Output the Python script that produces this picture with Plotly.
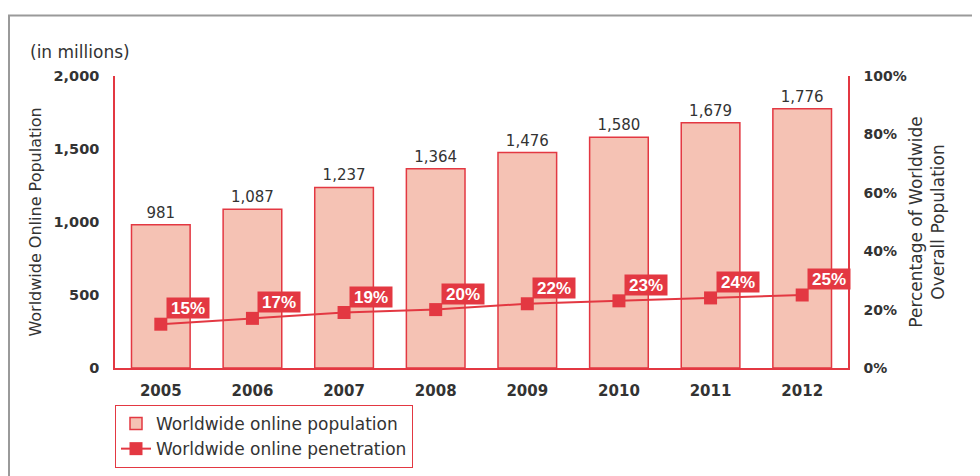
import plotly.graph_objects as go

years = ["2005", "2006", "2007", "2008", "2009", "2010", "2011", "2012"]
population = [981, 1087, 1237, 1364, 1476, 1580, 1679, 1776]
penetration = [15, 17, 19, 20, 22, 23, 24, 25]

left_ticks = [0, 500, 1000, 1500, 2000]
left_labels = ["0", "500", "1,000", "1,500", "2,000"]
right_ticks = [0, 20, 40, 60, 80, 100]
right_labels = ["0%", "20%", "40%", "60%", "80%", "100%"]

RED = "#e33842"
FILL = "#f5c2b4"
TXT = "#333333"
FONT = "DejaVu Sans, Liberation Sans, Arial, sans-serif"
LABEL_FONT = "Liberation Sans, Arial, Helvetica, sans-serif"

# page body has an 8px margin; figure is sized to fit the window
OFF = 8
W, H = 980 - OFF, 476 - OFF
L, R, T, B = 107, 132, 68, 108
pw, ph = W - L - R, H - T - B

def px_x(p):  # page pixel -> paper fraction
    return (p - OFF - L) / pw

def px_y(p):
    return (H - B - (p - OFF)) / ph

fig = go.Figure()
fig.add_trace(go.Bar(
    x=years, y=population, name="Worldwide online population",
    marker=dict(color=FILL, line=dict(color=RED, width=1.5)),
    texttemplate="%{y:,}", textposition="outside",
    textfont=dict(family=FONT, size=15, color=TXT),
    cliponaxis=False, yaxis="y",
))
fig.add_trace(go.Scatter(
    x=years, y=penetration, name="Worldwide online penetration",
    mode="lines+markers", yaxis="y2",
    line=dict(color=RED, width=2),
    marker=dict(symbol="square", size=13, color=RED),
))

for i, v in enumerate(penetration):
    fig.add_annotation(
        x=i, y=v, xref="x", yref="y2", text=f"<b>{v}%</b>",
        showarrow=False, xshift=27, yshift=16,
        font=dict(family=LABEL_FONT, size=17, color="white"),
        bgcolor=RED, borderpad=1, width=40, height=18,
    )

fig.add_annotation(
    x=px_x(28), y=px_y(52), xref="paper", yref="paper",
    xanchor="left", yanchor="middle", showarrow=False,
    text="(in millions)", font=dict(family=FONT, size=17, color=TXT),
)

fig.add_shape(
    type="rect", xref="paper", yref="paper",
    x0=px_x(9), y0=px_y(520), x1=px_x(1020), y1=px_y(15.5),
    line=dict(color="#9a9a9a", width=2), fillcolor="rgba(0,0,0,0)", layer="below",
)

fig.update_layout(
    width=W, height=H,
    margin=dict(l=L, r=R, t=T, b=B, autoexpand=False),
    paper_bgcolor="white", plot_bgcolor="white",
    bargap=0.36, showlegend=True,
    font=dict(family=FONT, color=TXT),
    xaxis=dict(
        type="category", categoryorder="array", categoryarray=years,
        range=[-0.5, len(years) - 0.5], automargin=False,
        showline=True, linecolor=RED, linewidth=1.5,
        showgrid=False, ticks="", ticklabelstandoff=8,
        tickfont=dict(family=FONT, size=15, color=TXT, weight="bold"),
    ),
    yaxis=dict(
        range=[0, 2000], tickvals=left_ticks, ticktext=left_labels,
        automargin=False,
        showline=True, linecolor=RED, linewidth=1.5, showgrid=False,
        zeroline=False, ticks="", ticklabelstandoff=11,
        tickfont=dict(family=FONT, size=14.5, color=TXT, weight="bold"),
        title=dict(text="Worldwide Online Population", standoff=8,
                   font=dict(family=FONT, size=16, color=TXT)),
    ),
    yaxis2=dict(
        range=[0, 100], tickvals=right_ticks, ticktext=right_labels,
        overlaying="y", side="right", automargin=False,
        showline=True, linecolor=RED, linewidth=1.5, showgrid=False,
        zeroline=False, ticks="", ticklabelstandoff=11,
        tickfont=dict(family=FONT, size=14, color=TXT, weight="bold"),
        title=dict(text="Percentage of Worldwide<br>Overall Population", standoff=4,
                   font=dict(family=FONT, size=17, color=TXT)),
    ),
    legend=dict(
        x=0, y=px_y(405), xanchor="left", yanchor="top",
        bordercolor=RED, borderwidth=1, bgcolor="white",
        font=dict(family=FONT, size=17, color=TXT),
        traceorder="normal", tracegroupgap=0,
    ),
)

fig.write_html("out.html")
